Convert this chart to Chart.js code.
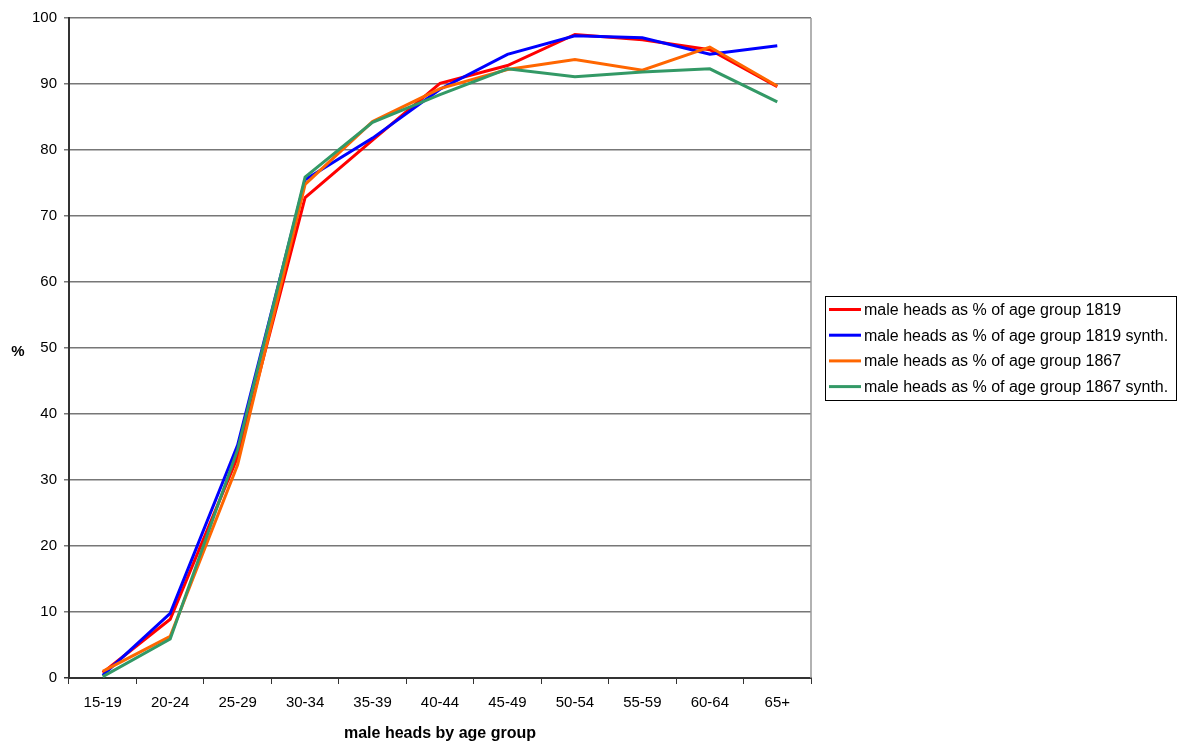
<!DOCTYPE html>
<html>
<head>
<meta charset="utf-8">
<title>male heads by age group</title>
<script src="https://cdn.jsdelivr.net/npm/chart.js@4.4.1/dist/chart.umd.min.js"></script>
<style>
  html, body { margin: 0; padding: 0; background: #fff; }
  #wrap { width: 1179px; height: 744px; position: relative; }
</style>
</head>
<body>
<div id="wrap"><canvas id="chartHeads"></canvas></div>
<script>
// age groups on the x axis
const ageGroups = ["15-19", "20-24", "25-29", "30-34", "35-39", "40-44", "45-49", "50-54", "55-59", "60-64", "65+"];

// male heads as % of each age group
const heads1819      = [0.8, 8.9, 33.5, 72.8, 81.5, 90.1, 92.8, 97.5, 96.7, 95.2, 89.6];
const heads1819Synth = [0.4, 9.8, 35.3, 75.5, 81.8, 89.2, 94.5, 97.3, 97.0, 94.5, 95.8];
const heads1867      = [1.0, 6.3, 32.3, 74.8, 84.3, 89.3, 92.2, 93.7, 92.1, 95.6, 89.7];
const heads1867Synth = [0.2, 5.9, 34.6, 75.9, 84.2, 88.4, 92.3, 91.1, 91.8, 92.3, 87.3];

const yTicks = [0, 10, 20, 30, 40, 50, 60, 70, 80, 90, 100];

const FONT = "'Liberation Sans', Arial, sans-serif";

const series = [
    { label: "male heads as % of age group 1819", data: heads1819, color: "#ff0000" },
    { label: "male heads as % of age group 1819 synth.", data: heads1819Synth, color: "#0000ff" },
    { label: "male heads as % of age group 1867", data: heads1867, color: "#ff6600" },
    { label: "male heads as % of age group 1867 synth.", data: heads1867Synth, color: "#339966" },
];

// legend box, right border of the plot and the upright "%" title
const extrasPlugin = {
    id: "extras",
    afterDraw(chart) {
        const ctx = chart.ctx;
        const area = chart.chartArea;
        ctx.save();

        // right edge of the plot frame
        ctx.strokeStyle = "#999";
        ctx.lineWidth = 1.5;
        ctx.beginPath();
        ctx.moveTo(area.right, area.top);
        ctx.lineTo(area.right, area.bottom);
        ctx.stroke();

        // y title
        ctx.fillStyle = "#000";
        ctx.font = "bold 15px " + FONT;
        ctx.textAlign = "center";
        ctx.textBaseline = "middle";
        ctx.fillText("%", 18, 352);

        // legend
        const lx = 825.5, ly = 296.5, lw = 351, lh = 104;
        ctx.strokeStyle = "#000";
        ctx.lineWidth = 1;
        ctx.strokeRect(lx, ly, lw, lh);
        ctx.font = "16px " + FONT;
        ctx.textAlign = "left";
        chart.data.datasets.forEach((ds, i) => {
            const y = 309.5 + i * 25.7;
            ctx.strokeStyle = ds.borderColor;
            ctx.lineWidth = 3;
            ctx.beginPath();
            ctx.moveTo(829, y);
            ctx.lineTo(861, y);
            ctx.stroke();
            ctx.fillStyle = "#000";
            ctx.fillText(ds.label, 864, y + 1);
        });
        ctx.restore();
    },
};

new Chart(document.getElementById("chartHeads"), {
    type: "line",
    data: {
        labels: ageGroups,
        datasets: series.map((s, i) => ({
            label: s.label,
            data: s.data,
            borderColor: s.color,
            backgroundColor: s.color,
            borderWidth: 3,
            pointRadius: 0,
            tension: 0,
            fill: false,
            // later series sit on top
            order: series.length - i,
        })),
    },
    options: {
        responsive: true,
        maintainAspectRatio: false,
        animation: false,
        layout: { padding: { top: 18, right: 368, bottom: 0, left: 0 } },
        plugins: {
            legend: { display: false },
            tooltip: { enabled: false },
        },
        scales: {
            x: {
                offset: true,
                grid: {
                    offset: true,
                    drawOnChartArea: false,
                    color: "#333",
                    tickLength: 6,
                },
                border: { color: "#333", width: 2 },
                ticks: {
                    color: "#000",
                    font: { family: FONT, size: 15 },
                    padding: 10,
                    maxRotation: 0,
                    autoSkip: false,
                },
                title: {
                    display: true,
                    text: "male heads by age group",
                    color: "#000",
                    font: { family: FONT, size: 16, weight: "bold" },
                    padding: { top: 0, bottom: 1 },
                },
                afterFit(scale) { scale.height = 66; },
            },
            y: {
                min: 0,
                max: 100,
                afterBuildTicks(scale) { scale.ticks = yTicks.map(v => ({ value: v })); },
                grid: {
                    color: (c) => (c.tick && c.tick.value === 0 ? "#333" : "#777"),
                    lineWidth: 1.5,
                    tickLength: 5,
                },
                border: { color: "#333", width: 2 },
                ticks: {
                    color: "#000",
                    font: { family: FONT, size: 15 },
                    padding: 7,
                },
                afterFit(scale) { scale.width = 69; },
            },
        },
    },
    plugins: [extrasPlugin],
});
</script>
</body>
</html>
